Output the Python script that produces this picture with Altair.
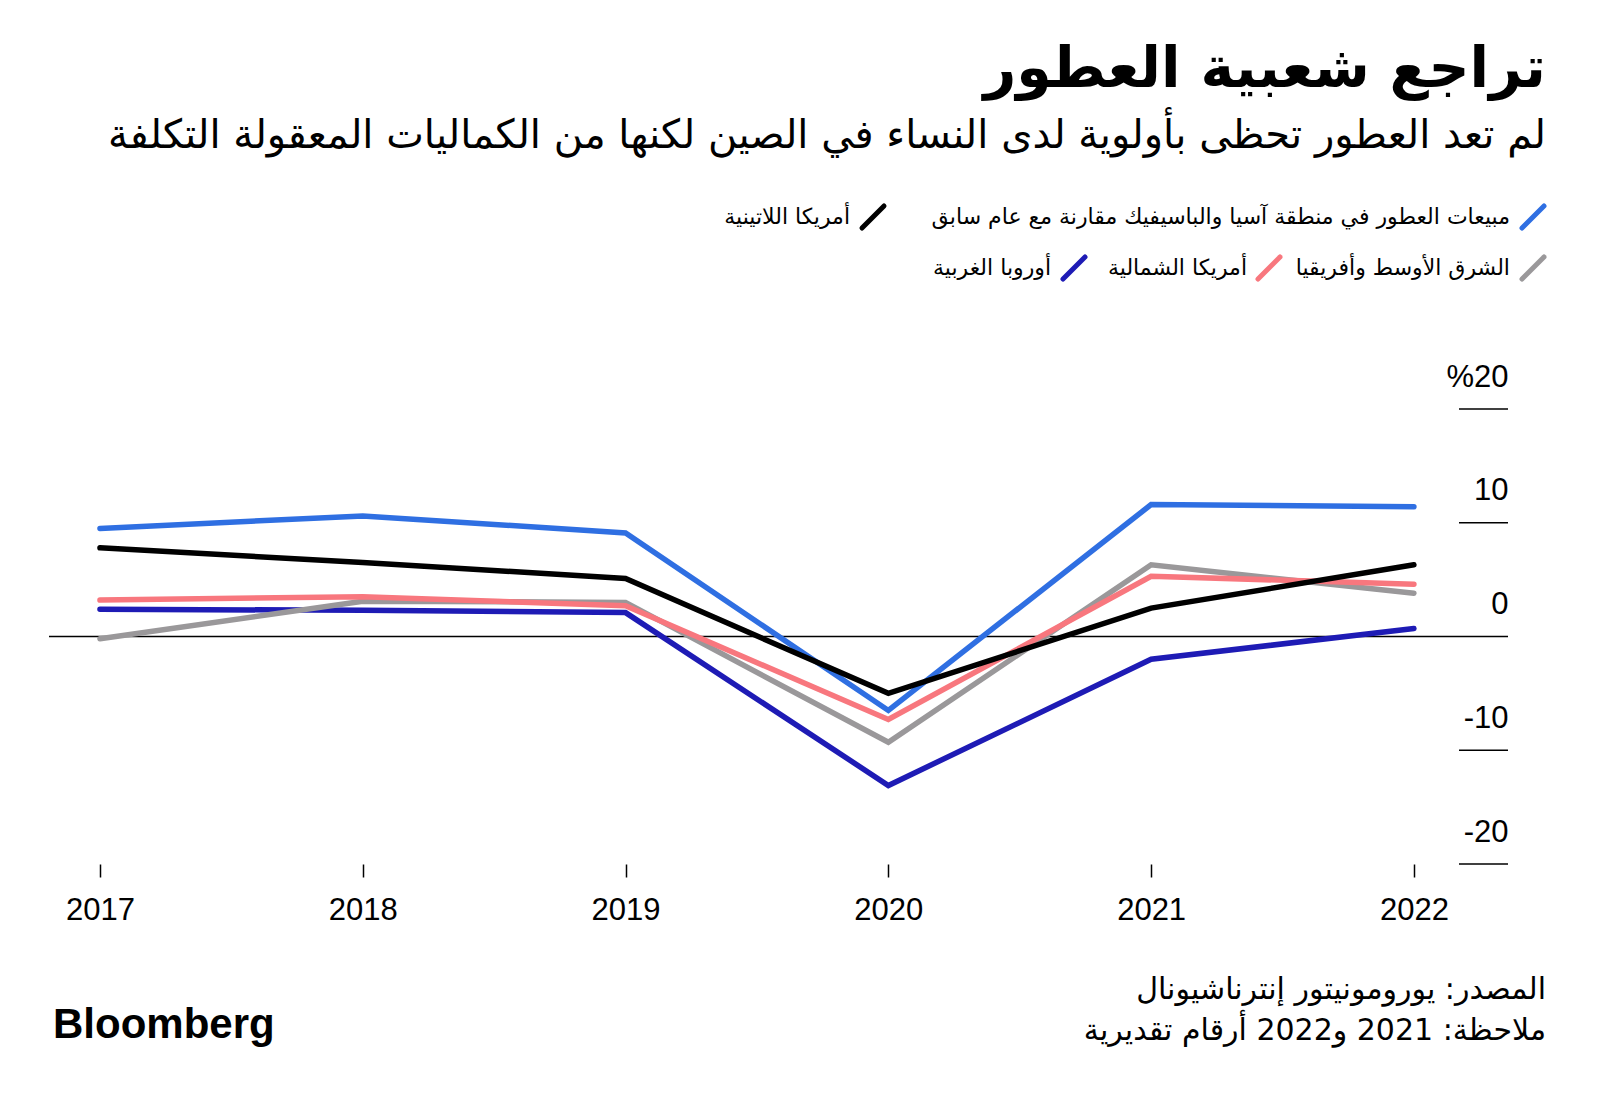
import altair as alt
import pandas as pd

# ---------------- data ----------------
YEARS = [2017, 2018, 2019, 2020, 2021, 2022]
SERIES = [
    "مبيعات العطور في منطقة آسيا والباسيفيك مقارنة مع عام سابق",
    "أمريكا اللاتينية",
    "الشرق الأوسط وأفريقيا",
    "أمريكا الشمالية",
    "أوروبا الغربية",
]
ASIA_PACIFIC = [9.5, 10.6, 9.1, -6.5, 11.6, 11.4]
LATIN_AMERICA = [7.8, 6.5, 5.1, -5.0, 2.5, 6.3]
MIDDLE_EAST_AFRICA = [-0.2, 3.1, 3.0, -9.3, 6.3, 3.8]
NORTH_AMERICA = [3.2, 3.5, 2.7, -7.3, 5.3, 4.6]
WESTERN_EUROPE = [2.4, 2.3, 2.1, -13.1, -2.0, 0.7]
VALUES = [ASIA_PACIFIC, LATIN_AMERICA, MIDDLE_EAST_AFRICA, NORTH_AMERICA, WESTERN_EUROPE]
COLORS = ["#2f6fe2", "#000000", "#9a989a", "#f8777e", "#1e1bb5"]
Y_TICKS = [-20, -10, 0, 10, 20]

TITLE = "تراجع شعبية العطور"
SUBTITLE = "لم تعد العطور تحظى بأولوية لدى النساء في الصين لكنها من الكماليات المعقولة التكلفة"
SOURCE = "المصدر: يورومونيتور إنترناشيونال"
NOTE = "ملاحظة: 2021 و2022 أرقام تقديرية"
BRAND = "Bloomberg"

# ---------------- layout ----------------
W, H = 1459, 455
AR_FONT = "DejaVu Sans"
NUM_FONT = "Liberation Sans"

rows = []
for name, vals in zip(SERIES, VALUES):
    for y, v in zip(YEARS, vals):
        rows.append({"year": y, "value": v, "series": name})
df = pd.DataFrame(rows)

xscale = alt.Scale(domain=[2016.806, 2022.358], nice=False, zero=False)
yscale = alt.Scale(domain=[-20, 20], nice=False, zero=False)

xaxis = alt.Axis(
    values=YEARS, format="d", title=None, grid=False, domain=False,
    ticks=True, tickSize=13, tickColor="#000000", tickWidth=1.5,
    labelFont=NUM_FONT, labelFontSize=31, labelColor="#000000",
    labelPadding=18, labelFlush=False, labelOverlap=False,
)
yaxis = alt.Axis(
    values=Y_TICKS, orient="right", title=None, grid=False, domain=False,
    ticks=False, tickSize=0, labelAlign="right", labelPadding=0,
    labelBaseline="alphabetic", labelOffset=-23,
    labelFont=NUM_FONT, labelFontSize=31, labelColor="#000000",
    labelFlush=False, labelOverlap=False,
    labelExpr="datum.value == 20 ? '%20' : '' + datum.value",
)

# series lines
lines = []
draw_order = [4, 2, 3, 0, 1]
for idx in draw_order:
    sub = df[df["series"] == SERIES[idx]]
    lines.append(
        alt.Chart(sub).mark_line(
            color=COLORS[idx], strokeWidth=5.5, strokeCap="round", strokeJoin="miter"
        ).encode(
            x=alt.X("year:Q", scale=xscale, axis=xaxis),
            y=alt.Y("value:Q", scale=yscale, axis=yaxis),
        )
    )

# zero line (full width)
zero_df = pd.DataFrame({"value": [0]})
zero_rule = alt.Chart(zero_df).mark_rule(color="#000000", strokeWidth=1.6).encode(
    y=alt.Y("value:Q", scale=yscale, axis=yaxis), x=alt.value(0), x2=alt.value(W)
)
# short tick marks at the right under the labels
tick_df = pd.DataFrame({"value": [t for t in Y_TICKS if t != 0]})
short_ticks = alt.Chart(tick_df).mark_rule(color="#000000", strokeWidth=1.6).encode(
    y=alt.Y("value:Q", scale=yscale, axis=yaxis), x=alt.value(W - 49), x2=alt.value(W)
)

def text_layer(t, x, y, size, align="right", weight="normal", font=AR_FONT, baseline="middle"):
    return alt.Chart(pd.DataFrame({"t": [t]})).mark_text(
        align=align, baseline=baseline, font=font, fontSize=size,
        fontWeight=weight, color="#000000",
    ).encode(text="t:N", x=alt.value(x), y=alt.value(y))

texts = []
# title / subtitle (positions relative to plot origin)
texts.append(text_layer(TITLE, 1497, -339, 57, weight="bold"))
texts.append(text_layer(SUBTITLE, 1497, -273, 40))

# legend
legend_pos = [
    (0, 1473, 1461, -192),
    (1, 813, 801, -192),
    (2, 1473, 1461, -141),
    (3, 1209, 1198, -141),
    (4, 1014, 1002, -141),
]
for idx, sx, tx, cy in legend_pos:
    texts.append(
        alt.Chart(pd.DataFrame({"s": [SERIES[idx]]})).mark_rule(
            color=COLORS[idx], strokeWidth=5, strokeCap="round"
        ).encode(
            x=alt.value(sx), x2=alt.value(sx + 22),
            y=alt.value(cy + 11), y2=alt.value(cy - 11),
        )
    )
    texts.append(text_layer(SERIES[idx], tx, cy, 22))

# footer
texts.append(text_layer(SOURCE, 1497, 581, 30))
texts.append(text_layer(NOTE, 1497, 622, 30))
texts.append(text_layer(BRAND, 4, 616, 42, align="left", weight="bold", font=NUM_FONT))

chart = alt.layer(zero_rule, short_ticks, *lines, *texts).properties(
    width=W, height=H,
    padding={"left": 41, "top": 401, "right": 60, "bottom": 225},
    autosize=alt.AutoSizeParams(type="none"),
    background="#ffffff",
).configure_view(stroke=None)

chart.save("out.html", embed_options={"renderer": "svg", "actions": False})
